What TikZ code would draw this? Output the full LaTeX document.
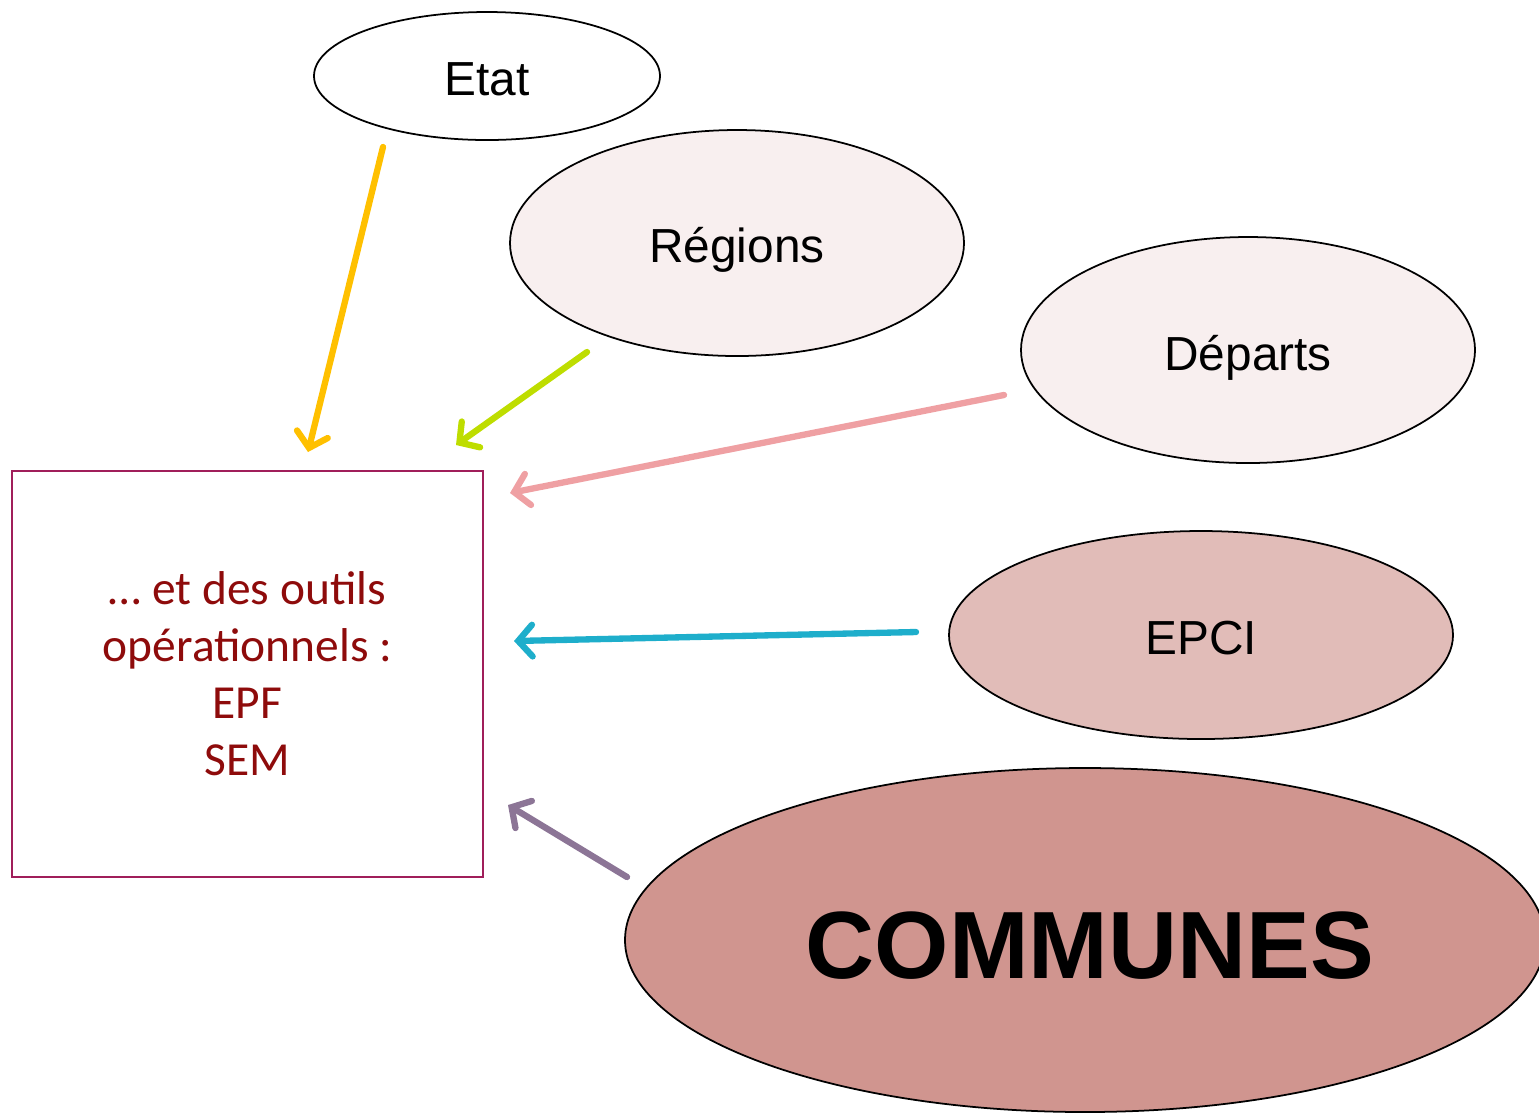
\documentclass[tikz,border=0pt]{standalone}
\usepackage{fontspec}
\setmainfont{Liberation Sans}
\newfontfamily\boxfont{Carlito}
\usetikzlibrary{shapes.geometric,arrows.meta}

\definecolor{etatcol}{HTML}{FFC000}
\definecolor{regcol}{HTML}{BEDD00}
\definecolor{depcol}{HTML}{EFA0A3}
\definecolor{epcicol}{HTML}{1EAECB}
\definecolor{comcol}{HTML}{8C7596}
\definecolor{palepink}{HTML}{F8EFEF}
\definecolor{epcifill}{HTML}{E1BCB8}
\definecolor{comfill}{HTML}{D0958F}
\definecolor{boxline}{HTML}{A01E5A}
\definecolor{boxtext}{HTML}{8E0B0B}

\newcommand{\lowered}[2]{\raisebox{-#1}[\height][\depth]{#2}}

\tikzset{
  bubble/.style={ellipse, draw=black, line width=0.5pt, inner sep=0pt, font=\fontsize{13.6}{16}\selectfont},
  feed/.style={line width=1.8pt, line cap=round, -{Straight Barb[length=4pt,width=9pt,line cap=round]}},
}

\begin{document}
\begin{tikzpicture}
\clip (0,0) rectangle (15.39,-11.13);
% Ellipses
\node [bubble, fill=white, minimum width=3.46cm, minimum height=1.28cm] (etat) at (4.87,-0.76) {\lowered{0.03cm}{Etat}};
\node [bubble, fill=palepink, minimum width=4.54cm, minimum height=2.26cm] (regions) at (7.37,-2.43) {\lowered{0.07cm}{Régions}};
\node [bubble, fill=palepink, minimum width=4.54cm, minimum height=2.26cm] (departs) at (12.48,-3.50) {\lowered{0.08cm}{Départs}};
\node [bubble, fill=epcifill, minimum width=5.04cm, minimum height=2.08cm] (epci) at (12.01,-6.35) {\lowered{0.03cm}{EPCI}};
\node [bubble, fill=comfill, minimum width=9.20cm, minimum height=3.44cm, font=\fontsize{27.2}{32}\selectfont\bfseries] (communes) at (10.85,-9.40) {\hspace{0.1cm}\lowered{0.06cm}{COMMUNES}};
%
% Box
\node [draw=boxline, line width=0.7pt, minimum width=4.71cm, minimum height=4.06cm, align=center,
  text=boxtext, font=\boxfont\fontsize{13.5}{16.2}\selectfont] (outils) at (2.475,-6.74)
  {… et des outils\\opérationnels :\\EPF\\SEM};
%
% Arrows
\coordinate (etat-out) at (3.83,-1.47);
\coordinate (etat-in) at (3.08,-4.52);
\coordinate (reg-out) at (5.87,-3.52);
\coordinate (reg-in) at (4.56,-4.45);
\coordinate (dep-out) at (10.04,-3.95);
\coordinate (dep-in) at (5.10,-4.93);
\coordinate (epci-out) at (9.16,-6.32);
\coordinate (epci-in) at (5.14,-6.41);
\coordinate (com-out) at (6.27,-8.77);
\coordinate (com-in) at (5.08,-8.05);
\draw [feed, etatcol] (etat-out) -- (etat-in);
\draw [feed, regcol] (reg-out) -- (reg-in);
\draw [feed, depcol] (dep-out) -- (dep-in);
\draw [feed, epcicol] (epci-out) -- (epci-in);
\draw [feed, comcol] (com-out) -- (com-in);
%
\end{tikzpicture}
\end{document}
